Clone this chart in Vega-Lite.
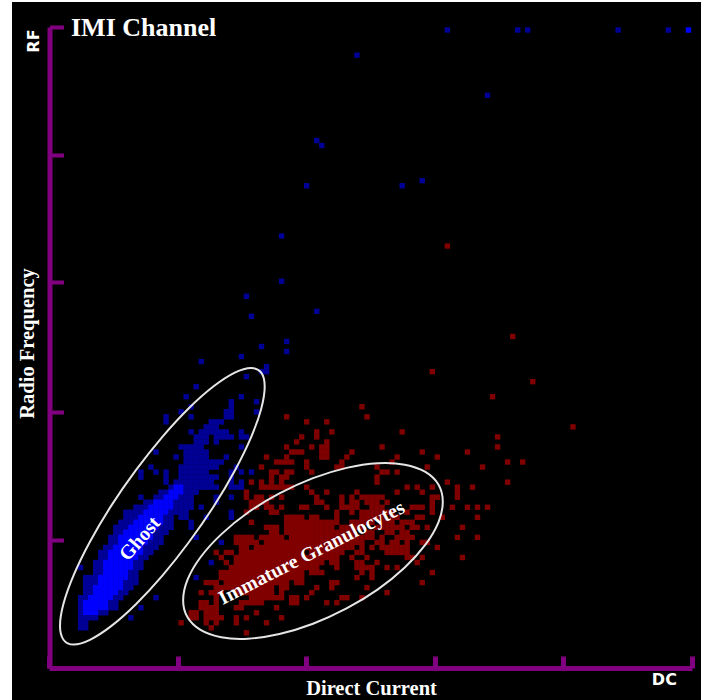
{"$schema":"https://vega.github.io/schema/vega-lite/v6.json","width":689,"height":698,"autosize":"none","padding":{"left":12,"top":2,"right":0,"bottom":0},"background":"white","config":{"view":{"fill":"black","stroke":null}},
"title":{"text":"IMI Channel","anchor":"start","frame":"group","dx":59,"dy":43,"font":"Liberation Serif","fontSize":26,"fontWeight":"bold","color":"white"},
"layer":[
{"data":{"values":[
{"d":79,"r":127,"t":"g"},{"d":93,"r":127,"t":"g"},{"d":95,"r":127,"t":"g"},{"d":113,"r":127,"t":"g"},{"d":123,"r":127,"t":"g"},{"d":127,"r":127,"t":"G"},{"d":61,"r":122,"t":"g"},{"d":87,"r":114,"t":"g"},{"d":53,"r":105,"t":"g"},{"d":54,"r":104,"t":"g"},{"d":74,"r":97,"t":"g"},{"d":51,"r":96,"t":"g"},{"d":70,"r":96,"t":"g"},{"d":46,"r":86,"t":"g"},{"d":46,"r":77,"t":"g"},{"d":39,"r":74,"t":"g"},{"d":53,"r":71,"t":"g"},{"d":40,"r":70,"t":"g"},{"d":47,"r":65,"t":"g"},{"d":42,"r":64,"t":"g"},{"d":47,"r":63,"t":"g"},{"d":38,"r":62,"t":"g"},{"d":30,"r":61,"t":"g"},{"d":43,"r":60,"t":"g"},{"d":42,"r":59,"t":"g"},{"d":43,"r":59,"t":"g"},{"d":39,"r":58,"t":"g"},{"d":29,"r":56,"t":"g"},{"d":38,"r":54,"t":"g"},{"d":27,"r":54,"t":"g"},{"d":41,"r":53,"t":"g"},{"d":36,"r":53,"t":"g"},{"d":36,"r":52,"t":"g"},{"d":28,"r":52,"t":"g"},{"d":35,"r":51,"t":"g"},{"d":26,"r":51,"t":"g"},{"d":41,"r":51,"t":"g"},{"d":36,"r":51,"t":"g"},{"d":35,"r":50,"t":"g"},{"d":28,"r":50,"t":"g"},{"d":36,"r":50,"t":"g"},{"d":23,"r":50,"t":"g"},{"d":34,"r":49,"t":"g"},{"d":32,"r":49,"t":"g"},{"d":33,"r":49,"t":"g"},{"d":23,"r":49,"t":"g"},{"d":31,"r":48,"t":"g"},{"d":32,"r":48,"t":"g"},{"d":33,"r":48,"t":"g"},
{"d":28,"r":47,"t":"g"},{"d":30,"r":47,"t":"g"},{"d":31,"r":47,"t":"g"},{"d":32,"r":47,"t":"g"},{"d":33,"r":47,"t":"g"},{"d":34,"r":47,"t":"g"},{"d":35,"r":47,"t":"g"},{"d":38,"r":47,"t":"g"},
{"d":29,"r":46,"t":"g"},{"d":30,"r":46,"t":"g"},{"d":31,"r":46,"t":"g"},{"d":33,"r":46,"t":"g"},{"d":34,"r":46,"t":"g"},{"d":35,"r":46,"t":"g"},{"d":36,"r":46,"t":"g"},{"d":38,"r":46,"t":"g"},{"d":39,"r":46,"t":"g"},
{"d":29,"r":45,"t":"g"},{"d":30,"r":45,"t":"g"},{"d":31,"r":45,"t":"g"},{"d":33,"r":45,"t":"g"},
{"d":26,"r":44,"t":"g"},{"d":27,"r":44,"t":"g"},{"d":28,"r":44,"t":"g"},{"d":29,"r":44,"t":"g"},{"d":30,"r":44,"t":"g"},{"d":38,"r":44,"t":"g"},
{"d":21,"r":43,"t":"g"},{"d":27,"r":43,"t":"g"},{"d":28,"r":43,"t":"g"},{"d":29,"r":43,"t":"g"},{"d":30,"r":43,"t":"g"},{"d":31,"r":43,"t":"g"},
{"d":25,"r":42,"t":"g"},{"d":27,"r":42,"t":"g"},{"d":28,"r":42,"t":"g"},{"d":29,"r":42,"t":"g"},{"d":30,"r":42,"t":"g"},{"d":31,"r":42,"t":"g"},{"d":35,"r":42,"t":"g"},
{"d":27,"r":41,"t":"g"},{"d":28,"r":41,"t":"g"},{"d":29,"r":41,"t":"g"},{"d":30,"r":41,"t":"g"},{"d":31,"r":41,"t":"g"},{"d":32,"r":41,"t":"g"},{"d":33,"r":41,"t":"g"},{"d":34,"r":41,"t":"g"},
{"d":20,"r":40,"t":"g"},{"d":26,"r":40,"t":"g"},{"d":27,"r":40,"t":"g"},{"d":28,"r":40,"t":"g"},{"d":29,"r":40,"t":"g"},{"d":30,"r":40,"t":"g"},{"d":31,"r":40,"t":"g"},{"d":32,"r":40,"t":"g"},{"d":33,"r":40,"t":"g"},{"d":37,"r":40,"t":"g"},
{"d":18,"r":39,"t":"g"},{"d":21,"r":39,"t":"g"},{"d":23,"r":39,"t":"g"},{"d":26,"r":39,"t":"g"},{"d":27,"r":39,"t":"g"},{"d":28,"r":39,"t":"g"},{"d":29,"r":39,"t":"g"},{"d":30,"r":39,"t":"g"},{"d":31,"r":39,"t":"g"},{"d":36,"r":39,"t":"g"},{"d":38,"r":39,"t":"g"},{"d":40,"r":39,"t":"g"},
{"d":18,"r":38,"t":"g"},{"d":23,"r":38,"t":"g"},{"d":26,"r":38,"t":"g"},{"d":27,"r":38,"t":"g"},{"d":28,"r":38,"t":"g"},{"d":29,"r":38,"t":"g"},{"d":30,"r":38,"t":"g"},{"d":31,"r":38,"t":"g"},{"d":32,"r":38,"t":"g"},{"d":33,"r":38,"t":"g"},{"d":36,"r":38,"t":"g"},
{"d":23,"r":37,"t":"g"},{"d":25,"r":37,"t":"g"},{"d":26,"r":37,"t":"g"},{"d":27,"r":37,"t":"g"},{"d":28,"r":37,"t":"g"},{"d":29,"r":37,"t":"g"},{"d":30,"r":37,"t":"g"},{"d":31,"r":37,"t":"g"},{"d":32,"r":37,"t":"g"},{"d":36,"r":37,"t":"g"},{"d":38,"r":37,"t":"g"},
{"d":24,"r":36,"t":"g"},{"d":25,"r":36,"t":"G"},{"d":26,"r":36,"t":"G"},{"d":27,"r":36,"t":"g"},{"d":28,"r":36,"t":"g"},{"d":29,"r":36,"t":"g"},{"d":30,"r":36,"t":"g"},{"d":31,"r":36,"t":"g"},{"d":32,"r":36,"t":"g"},{"d":33,"r":36,"t":"g"},{"d":36,"r":36,"t":"g"},{"d":37,"r":36,"t":"g"},{"d":38,"r":36,"t":"g"},
{"d":22,"r":35,"t":"g"},{"d":23,"r":35,"t":"g"},{"d":24,"r":35,"t":"G"},{"d":25,"r":35,"t":"G"},{"d":26,"r":35,"t":"G"},{"d":27,"r":35,"t":"g"},{"d":28,"r":35,"t":"g"},{"d":29,"r":35,"t":"g"},
{"d":18,"r":34,"t":"g"},{"d":21,"r":34,"t":"g"},{"d":22,"r":34,"t":"g"},{"d":23,"r":34,"t":"G"},{"d":24,"r":34,"t":"G"},{"d":25,"r":34,"t":"G"},{"d":26,"r":34,"t":"g"},{"d":27,"r":34,"t":"g"},{"d":28,"r":34,"t":"g"},{"d":33,"r":34,"t":"g"},{"d":36,"r":34,"t":"g"},
{"d":19,"r":33,"t":"g"},{"d":20,"r":33,"t":"g"},{"d":21,"r":33,"t":"G"},{"d":22,"r":33,"t":"G"},{"d":23,"r":33,"t":"G"},{"d":24,"r":33,"t":"G"},{"d":25,"r":33,"t":"g"},{"d":26,"r":33,"t":"g"},{"d":27,"r":33,"t":"g"},{"d":28,"r":33,"t":"g"},{"d":33,"r":33,"t":"g"},
{"d":17,"r":32,"t":"g"},{"d":18,"r":32,"t":"g"},{"d":19,"r":32,"t":"g"},{"d":20,"r":32,"t":"G"},{"d":21,"r":32,"t":"G"},{"d":22,"r":32,"t":"G"},{"d":23,"r":32,"t":"G"},{"d":24,"r":32,"t":"G"},{"d":25,"r":32,"t":"g"},{"d":26,"r":32,"t":"g"},{"d":27,"r":32,"t":"g"},{"d":28,"r":32,"t":"g"},{"d":30,"r":32,"t":"g"},
{"d":15,"r":31,"t":"g"},{"d":16,"r":31,"t":"g"},{"d":17,"r":31,"t":"g"},{"d":18,"r":31,"t":"g"},{"d":19,"r":31,"t":"G"},{"d":20,"r":31,"t":"G"},{"d":21,"r":31,"t":"G"},{"d":22,"r":31,"t":"G"},{"d":23,"r":31,"t":"G"},{"d":24,"r":31,"t":"g"},{"d":25,"r":31,"t":"g"},{"d":26,"r":31,"t":"g"},{"d":27,"r":31,"t":"g"},{"d":36,"r":31,"t":"g"},
{"d":15,"r":30,"t":"g"},{"d":16,"r":30,"t":"g"},{"d":17,"r":30,"t":"g"},{"d":18,"r":30,"t":"G"},{"d":19,"r":30,"t":"G"},{"d":20,"r":30,"t":"G"},{"d":21,"r":30,"t":"G"},{"d":22,"r":30,"t":"G"},{"d":23,"r":30,"t":"g"},{"d":24,"r":30,"t":"g"},{"d":26,"r":30,"t":"g"},{"d":27,"r":30,"t":"g"},{"d":31,"r":30,"t":"g"},{"d":36,"r":30,"t":"g"},
{"d":14,"r":29,"t":"g"},{"d":15,"r":29,"t":"g"},{"d":16,"r":29,"t":"g"},{"d":17,"r":29,"t":"G"},{"d":18,"r":29,"t":"G"},{"d":19,"r":29,"t":"G"},{"d":20,"r":29,"t":"G"},{"d":21,"r":29,"t":"G"},{"d":22,"r":29,"t":"G"},{"d":23,"r":29,"t":"g"},{"d":24,"r":29,"t":"g"},{"d":28,"r":29,"t":"g"},
{"d":13,"r":28,"t":"g"},{"d":14,"r":28,"t":"g"},{"d":15,"r":28,"t":"g"},{"d":16,"r":28,"t":"G"},{"d":17,"r":28,"t":"G"},{"d":18,"r":28,"t":"G"},{"d":19,"r":28,"t":"G"},{"d":20,"r":28,"t":"G"},{"d":21,"r":28,"t":"G"},{"d":22,"r":28,"t":"g"},{"d":23,"r":28,"t":"g"},{"d":24,"r":28,"t":"g"},{"d":28,"r":28,"t":"g"},
{"d":13,"r":27,"t":"g"},{"d":14,"r":27,"t":"g"},{"d":15,"r":27,"t":"G"},{"d":16,"r":27,"t":"G"},{"d":17,"r":27,"t":"G"},{"d":18,"r":27,"t":"G"},{"d":19,"r":27,"t":"G"},{"d":20,"r":27,"t":"G"},{"d":21,"r":27,"t":"g"},{"d":22,"r":27,"t":"g"},{"d":23,"r":27,"t":"g"},
{"d":12,"r":26,"t":"g"},{"d":13,"r":26,"t":"g"},{"d":14,"r":26,"t":"G"},{"d":15,"r":26,"t":"G"},{"d":16,"r":26,"t":"G"},{"d":17,"r":26,"t":"G"},{"d":18,"r":26,"t":"G"},{"d":19,"r":26,"t":"G"},{"d":20,"r":26,"t":"G"},{"d":21,"r":26,"t":"g"},{"d":22,"r":26,"t":"g"},{"d":29,"r":26,"t":"g"},
{"d":12,"r":25,"t":"g"},{"d":13,"r":25,"t":"g"},{"d":14,"r":25,"t":"G"},{"d":15,"r":25,"t":"G"},{"d":16,"r":25,"t":"G"},{"d":17,"r":25,"t":"G"},{"d":18,"r":25,"t":"G"},{"d":19,"r":25,"t":"G"},{"d":20,"r":25,"t":"g"},{"d":21,"r":25,"t":"g"},{"d":22,"r":25,"t":"g"},{"d":34,"r":25,"t":"g"},
{"d":11,"r":24,"t":"g"},{"d":12,"r":24,"t":"g"},{"d":13,"r":24,"t":"G"},{"d":14,"r":24,"t":"G"},{"d":15,"r":24,"t":"G"},{"d":16,"r":24,"t":"G"},{"d":17,"r":24,"t":"G"},{"d":18,"r":24,"t":"G"},{"d":19,"r":24,"t":"g"},{"d":20,"r":24,"t":"g"},{"d":21,"r":24,"t":"g"},
{"d":10,"r":23,"t":"g"},{"d":11,"r":23,"t":"g"},{"d":12,"r":23,"t":"G"},{"d":13,"r":23,"t":"G"},{"d":14,"r":23,"t":"G"},{"d":15,"r":23,"t":"G"},{"d":16,"r":23,"t":"G"},{"d":17,"r":23,"t":"G"},{"d":18,"r":23,"t":"G"},{"d":19,"r":23,"t":"g"},{"d":20,"r":23,"t":"g"},
{"d":10,"r":22,"t":"g"},{"d":11,"r":22,"t":"g"},{"d":12,"r":22,"t":"G"},{"d":13,"r":22,"t":"G"},{"d":14,"r":22,"t":"G"},{"d":15,"r":22,"t":"G"},{"d":16,"r":22,"t":"G"},{"d":17,"r":22,"t":"G"},{"d":18,"r":22,"t":"g"},{"d":19,"r":22,"t":"g"},
{"d":9,"r":21,"t":"g"},{"d":10,"r":21,"t":"g"},{"d":11,"r":21,"t":"G"},{"d":12,"r":21,"t":"G"},{"d":13,"r":21,"t":"G"},{"d":14,"r":21,"t":"G"},{"d":15,"r":21,"t":"G"},{"d":16,"r":21,"t":"G"},{"d":17,"r":21,"t":"g"},{"d":18,"r":21,"t":"g"},{"d":32,"r":21,"t":"g"},
{"d":6,"r":20,"t":"g"},{"d":9,"r":20,"t":"g"},{"d":10,"r":20,"t":"g"},{"d":11,"r":20,"t":"G"},{"d":12,"r":20,"t":"G"},{"d":13,"r":20,"t":"G"},{"d":14,"r":20,"t":"G"},{"d":15,"r":20,"t":"G"},{"d":16,"r":20,"t":"G"},{"d":17,"r":20,"t":"g"},{"d":18,"r":20,"t":"g"},
{"d":9,"r":19,"t":"g"},{"d":10,"r":19,"t":"g"},{"d":11,"r":19,"t":"G"},{"d":12,"r":19,"t":"G"},{"d":13,"r":19,"t":"G"},{"d":14,"r":19,"t":"G"},{"d":15,"r":19,"t":"G"},{"d":16,"r":19,"t":"g"},{"d":17,"r":19,"t":"g"},
{"d":7,"r":18,"t":"g"},{"d":8,"r":18,"t":"g"},{"d":9,"r":18,"t":"g"},{"d":10,"r":18,"t":"G"},{"d":11,"r":18,"t":"G"},{"d":12,"r":18,"t":"G"},{"d":13,"r":18,"t":"G"},{"d":14,"r":18,"t":"G"},{"d":15,"r":18,"t":"G"},{"d":16,"r":18,"t":"g"},{"d":17,"r":18,"t":"g"},{"d":29,"r":18,"t":"g"},
{"d":7,"r":17,"t":"g"},{"d":8,"r":17,"t":"g"},{"d":9,"r":17,"t":"g"},{"d":10,"r":17,"t":"G"},{"d":11,"r":17,"t":"G"},{"d":12,"r":17,"t":"G"},{"d":13,"r":17,"t":"G"},{"d":14,"r":17,"t":"G"},{"d":15,"r":17,"t":"g"},{"d":16,"r":17,"t":"g"},{"d":17,"r":17,"t":"g"},
{"d":7,"r":16,"t":"g"},{"d":8,"r":16,"t":"g"},{"d":9,"r":16,"t":"G"},{"d":10,"r":16,"t":"G"},{"d":11,"r":16,"t":"G"},{"d":12,"r":16,"t":"G"},{"d":13,"r":16,"t":"G"},{"d":14,"r":16,"t":"G"},{"d":15,"r":16,"t":"g"},{"d":16,"r":16,"t":"g"},
{"d":7,"r":15,"t":"g"},{"d":8,"r":15,"t":"g"},{"d":9,"r":15,"t":"G"},{"d":10,"r":15,"t":"G"},{"d":11,"r":15,"t":"G"},{"d":12,"r":15,"t":"G"},{"d":13,"r":15,"t":"G"},{"d":14,"r":15,"t":"g"},{"d":15,"r":15,"t":"g"},
{"d":6,"r":14,"t":"g"},{"d":7,"r":14,"t":"g"},{"d":8,"r":14,"t":"G"},{"d":9,"r":14,"t":"G"},{"d":10,"r":14,"t":"G"},{"d":11,"r":14,"t":"G"},{"d":12,"r":14,"t":"G"},{"d":13,"r":14,"t":"g"},{"d":14,"r":14,"t":"g"},{"d":21,"r":14,"t":"g"},
{"d":6,"r":13,"t":"g"},{"d":7,"r":13,"t":"G"},{"d":8,"r":13,"t":"G"},{"d":9,"r":13,"t":"G"},{"d":10,"r":13,"t":"G"},{"d":11,"r":13,"t":"G"},{"d":12,"r":13,"t":"g"},{"d":13,"r":13,"t":"g"},
{"d":6,"r":12,"t":"g"},{"d":7,"r":12,"t":"G"},{"d":8,"r":12,"t":"G"},{"d":9,"r":12,"t":"G"},{"d":10,"r":12,"t":"G"},{"d":11,"r":12,"t":"G"},{"d":12,"r":12,"t":"g"},{"d":13,"r":12,"t":"g"},{"d":18,"r":12,"t":"g"},
{"d":6,"r":11,"t":"g"},{"d":7,"r":11,"t":"G"},{"d":8,"r":11,"t":"G"},{"d":9,"r":11,"t":"G"},{"d":10,"r":11,"t":"g"},{"d":11,"r":11,"t":"g"},
{"d":6,"r":10,"t":"g"},{"d":7,"r":10,"t":"g"},{"d":8,"r":10,"t":"g"},{"d":9,"r":10,"t":"g"},{"d":16,"r":10,"t":"g"},{"d":6,"r":9,"t":"g"},{"d":7,"r":9,"t":"g"},{"d":6,"r":8,"t":"g"},{"d":7,"r":8,"t":"g"},
{"d":79,"r":84,"t":"i"},{"d":92,"r":66,"t":"i"},{"d":76,"r":59,"t":"i"},{"d":96,"r":57,"t":"i"},{"d":88,"r":54,"t":"i"},{"d":62,"r":52,"t":"i"},{"d":47,"r":50,"t":"i"},{"d":63,"r":50,"t":"i"},{"d":51,"r":49,"t":"i"},{"d":55,"r":49,"t":"i"},{"d":104,"r":48,"t":"i"},{"d":53,"r":47,"t":"i"},{"d":56,"r":47,"t":"i"},{"d":70,"r":47,"t":"i"},{"d":50,"r":46,"t":"i"},{"d":53,"r":46,"t":"i"},{"d":89,"r":46,"t":"i"},{"d":49,"r":45,"t":"i"},{"d":55,"r":45,"t":"i"},{"d":89,"r":44,"t":"i"},{"d":86,"r":40,"t":"i"},{"d":91,"r":41,"t":"i"},{"d":94,"r":41,"t":"i"},{"d":91,"r":37,"t":"i"},{"d":84,"r":36,"t":"i"},{"d":85,"r":32,"t":"i"},{"d":87,"r":32,"t":"i"},{"d":85,"r":30,"t":"i"},{"d":85,"r":26,"t":"i"},
{"d":47,"r":44,"t":"i"},{"d":52,"r":44,"t":"i"},{"d":54,"r":44,"t":"i"},{"d":55,"r":44,"t":"i"},{"d":66,"r":44,"t":"i"},
{"d":48,"r":43,"t":"i"},{"d":49,"r":43,"t":"i"},{"d":50,"r":43,"t":"i"},{"d":54,"r":43,"t":"i"},{"d":55,"r":43,"t":"i"},{"d":60,"r":43,"t":"i"},{"d":74,"r":43,"t":"i"},{"d":83,"r":43,"t":"i"},
{"d":43,"r":42,"t":"i"},{"d":47,"r":42,"t":"i"},{"d":54,"r":42,"t":"i"},{"d":55,"r":42,"t":"i"},{"d":59,"r":42,"t":"i"},{"d":69,"r":42,"t":"i"},{"d":77,"r":42,"t":"i"},
{"d":45,"r":41,"t":"i"},{"d":46,"r":41,"t":"i"},{"d":47,"r":41,"t":"i"},{"d":48,"r":41,"t":"i"},{"d":51,"r":41,"t":"i"},{"d":58,"r":41,"t":"i"},{"d":68,"r":41,"t":"i"},
{"d":42,"r":40,"t":"i"},{"d":51,"r":40,"t":"i"},{"d":57,"r":40,"t":"i"},{"d":58,"r":40,"t":"i"},{"d":65,"r":40,"t":"i"},{"d":75,"r":40,"t":"i"},
{"d":44,"r":39,"t":"i"},{"d":45,"r":39,"t":"i"},{"d":47,"r":39,"t":"i"},{"d":48,"r":39,"t":"i"},{"d":52,"r":39,"t":"i"},{"d":66,"r":39,"t":"i"},{"d":67,"r":39,"t":"i"},{"d":69,"r":39,"t":"i"},
{"d":44,"r":38,"t":"i"},{"d":46,"r":38,"t":"i"},{"d":47,"r":38,"t":"i"},{"d":65,"r":38,"t":"i"},
{"d":40,"r":37,"t":"i"},{"d":42,"r":37,"t":"i"},{"d":44,"r":37,"t":"i"},{"d":46,"r":37,"t":"i"},{"d":65,"r":37,"t":"i"},{"d":79,"r":37,"t":"i"},
{"d":42,"r":36,"t":"i"},{"d":43,"r":36,"t":"i"},{"d":44,"r":36,"t":"i"},{"d":45,"r":36,"t":"i"},{"d":46,"r":36,"t":"i"},{"d":47,"r":36,"t":"i"},{"d":48,"r":36,"t":"i"},{"d":51,"r":36,"t":"i"},{"d":71,"r":36,"t":"i"},{"d":73,"r":36,"t":"i"},{"d":76,"r":36,"t":"i"},{"d":81,"r":36,"t":"i"},
{"d":39,"r":35,"t":"i"},{"d":52,"r":35,"t":"i"},{"d":55,"r":35,"t":"i"},{"d":61,"r":35,"t":"i"},{"d":69,"r":35,"t":"i"},{"d":74,"r":35,"t":"i"},{"d":81,"r":35,"t":"i"},
{"d":39,"r":34,"t":"i"},{"d":41,"r":34,"t":"i"},{"d":42,"r":34,"t":"i"},{"d":44,"r":34,"t":"i"},{"d":46,"r":34,"t":"i"},{"d":53,"r":34,"t":"i"},{"d":58,"r":34,"t":"i"},{"d":60,"r":34,"t":"i"},{"d":62,"r":34,"t":"i"},{"d":63,"r":34,"t":"i"},{"d":64,"r":34,"t":"i"},{"d":65,"r":34,"t":"i"},{"d":66,"r":34,"t":"i"},{"d":76,"r":34,"t":"i"},{"d":77,"r":34,"t":"i"},{"d":81,"r":34,"t":"i"},
{"d":40,"r":33,"t":"i"},{"d":41,"r":33,"t":"i"},{"d":42,"r":33,"t":"i"},{"d":43,"r":33,"t":"i"},{"d":53,"r":33,"t":"i"},{"d":54,"r":33,"t":"i"},{"d":58,"r":33,"t":"i"},{"d":60,"r":33,"t":"i"},{"d":61,"r":33,"t":"i"},{"d":63,"r":33,"t":"i"},{"d":64,"r":33,"t":"i"},{"d":65,"r":33,"t":"i"},{"d":67,"r":33,"t":"i"},{"d":76,"r":33,"t":"i"},
{"d":40,"r":32,"t":"i"},{"d":41,"r":32,"t":"i"},{"d":43,"r":32,"t":"i"},{"d":44,"r":32,"t":"i"},{"d":46,"r":32,"t":"i"},{"d":50,"r":32,"t":"i"},{"d":51,"r":32,"t":"i"},{"d":55,"r":32,"t":"i"},{"d":58,"r":32,"t":"i"},{"d":59,"r":32,"t":"i"},{"d":60,"r":32,"t":"i"},{"d":61,"r":32,"t":"i"},{"d":64,"r":32,"t":"i"},{"d":65,"r":32,"t":"i"},{"d":66,"r":32,"t":"i"},{"d":72,"r":32,"t":"i"},{"d":73,"r":32,"t":"i"},{"d":74,"r":32,"t":"i"},{"d":76,"r":32,"t":"i"},{"d":80,"r":32,"t":"i"},{"d":83,"r":32,"t":"i"},
{"d":39,"r":31,"t":"i"},{"d":44,"r":31,"t":"i"},{"d":45,"r":31,"t":"i"},{"d":57,"r":31,"t":"i"},{"d":60,"r":31,"t":"i"},{"d":62,"r":31,"t":"i"},{"d":63,"r":31,"t":"i"},{"d":64,"r":31,"t":"i"},{"d":65,"r":31,"t":"i"},{"d":66,"r":31,"t":"i"},{"d":67,"r":31,"t":"i"},{"d":68,"r":31,"t":"i"},{"d":71,"r":31,"t":"i"},{"d":76,"r":31,"t":"i"},
{"d":47,"r":30,"t":"i"},{"d":48,"r":30,"t":"i"},{"d":49,"r":30,"t":"i"},{"d":50,"r":30,"t":"i"},{"d":52,"r":30,"t":"i"},{"d":53,"r":30,"t":"i"},{"d":57,"r":30,"t":"i"},{"d":62,"r":30,"t":"i"},{"d":63,"r":30,"t":"i"},{"d":64,"r":30,"t":"i"},{"d":65,"r":30,"t":"i"},{"d":66,"r":30,"t":"i"},{"d":68,"r":30,"t":"i"},{"d":69,"r":30,"t":"i"},{"d":73,"r":30,"t":"i"},{"d":74,"r":30,"t":"i"},{"d":78,"r":30,"t":"i"},
{"d":40,"r":29,"t":"i"},{"d":47,"r":29,"t":"i"},{"d":48,"r":29,"t":"i"},{"d":49,"r":29,"t":"i"},{"d":50,"r":29,"t":"i"},{"d":51,"r":29,"t":"i"},{"d":52,"r":29,"t":"i"},{"d":53,"r":29,"t":"i"},{"d":54,"r":29,"t":"i"},{"d":55,"r":29,"t":"i"},{"d":56,"r":29,"t":"i"},{"d":57,"r":29,"t":"i"},{"d":60,"r":29,"t":"i"},{"d":61,"r":29,"t":"i"},{"d":62,"r":29,"t":"i"},{"d":63,"r":29,"t":"i"},{"d":64,"r":29,"t":"i"},{"d":66,"r":29,"t":"i"},{"d":67,"r":29,"t":"i"},{"d":68,"r":29,"t":"i"},{"d":70,"r":29,"t":"i"},{"d":71,"r":29,"t":"i"},{"d":72,"r":29,"t":"i"},
{"d":43,"r":28,"t":"i"},{"d":44,"r":28,"t":"i"},{"d":45,"r":28,"t":"i"},{"d":47,"r":28,"t":"i"},{"d":48,"r":28,"t":"i"},{"d":49,"r":28,"t":"i"},{"d":50,"r":28,"t":"i"},{"d":51,"r":28,"t":"i"},{"d":52,"r":28,"t":"i"},{"d":53,"r":28,"t":"i"},{"d":54,"r":28,"t":"i"},{"d":55,"r":28,"t":"i"},{"d":56,"r":28,"t":"i"},{"d":58,"r":28,"t":"i"},{"d":59,"r":28,"t":"i"},{"d":60,"r":28,"t":"i"},{"d":61,"r":28,"t":"i"},{"d":62,"r":28,"t":"i"},{"d":65,"r":28,"t":"i"},{"d":66,"r":28,"t":"i"},{"d":67,"r":28,"t":"i"},{"d":68,"r":28,"t":"i"},{"d":69,"r":28,"t":"i"},{"d":70,"r":28,"t":"i"},{"d":72,"r":28,"t":"i"},{"d":73,"r":28,"t":"i"},{"d":75,"r":28,"t":"i"},{"d":82,"r":28,"t":"i"},
{"d":44,"r":27,"t":"i"},{"d":45,"r":27,"t":"i"},{"d":47,"r":27,"t":"i"},{"d":48,"r":27,"t":"i"},{"d":49,"r":27,"t":"i"},{"d":50,"r":27,"t":"i"},{"d":51,"r":27,"t":"i"},{"d":52,"r":27,"t":"i"},{"d":53,"r":27,"t":"i"},{"d":54,"r":27,"t":"i"},{"d":55,"r":27,"t":"i"},{"d":56,"r":27,"t":"i"},{"d":57,"r":27,"t":"i"},{"d":58,"r":27,"t":"i"},{"d":59,"r":27,"t":"i"},{"d":60,"r":27,"t":"i"},{"d":63,"r":27,"t":"i"},{"d":64,"r":27,"t":"i"},{"d":67,"r":27,"t":"i"},{"d":68,"r":27,"t":"i"},{"d":70,"r":27,"t":"i"},{"d":71,"r":27,"t":"i"},
{"d":37,"r":26,"t":"i"},{"d":38,"r":26,"t":"i"},{"d":39,"r":26,"t":"i"},{"d":40,"r":26,"t":"i"},{"d":42,"r":26,"t":"i"},{"d":43,"r":26,"t":"i"},{"d":44,"r":26,"t":"i"},{"d":45,"r":26,"t":"i"},{"d":46,"r":26,"t":"i"},{"d":48,"r":26,"t":"i"},{"d":49,"r":26,"t":"i"},{"d":50,"r":26,"t":"i"},{"d":51,"r":26,"t":"i"},{"d":52,"r":26,"t":"i"},{"d":53,"r":26,"t":"i"},{"d":54,"r":26,"t":"i"},{"d":55,"r":26,"t":"i"},{"d":56,"r":26,"t":"i"},{"d":57,"r":26,"t":"i"},{"d":58,"r":26,"t":"i"},{"d":59,"r":26,"t":"i"},{"d":60,"r":26,"t":"i"},{"d":61,"r":26,"t":"i"},{"d":62,"r":26,"t":"i"},{"d":63,"r":26,"t":"i"},{"d":64,"r":26,"t":"i"},{"d":66,"r":26,"t":"i"},{"d":69,"r":26,"t":"i"},{"d":70,"r":26,"t":"i"},{"d":71,"r":26,"t":"i"},{"d":72,"r":26,"t":"i"},{"d":81,"r":26,"t":"i"},
{"d":37,"r":25,"t":"i"},{"d":38,"r":25,"t":"i"},{"d":39,"r":25,"t":"i"},{"d":40,"r":25,"t":"i"},{"d":41,"r":25,"t":"i"},{"d":43,"r":25,"t":"i"},{"d":44,"r":25,"t":"i"},{"d":45,"r":25,"t":"i"},{"d":46,"r":25,"t":"i"},{"d":47,"r":25,"t":"i"},{"d":48,"r":25,"t":"i"},{"d":49,"r":25,"t":"i"},{"d":50,"r":25,"t":"i"},{"d":51,"r":25,"t":"i"},{"d":52,"r":25,"t":"i"},{"d":53,"r":25,"t":"i"},{"d":54,"r":25,"t":"i"},{"d":55,"r":25,"t":"i"},{"d":56,"r":25,"t":"i"},{"d":57,"r":25,"t":"i"},{"d":58,"r":25,"t":"i"},{"d":59,"r":25,"t":"i"},{"d":60,"r":25,"t":"i"},{"d":61,"r":25,"t":"i"},{"d":62,"r":25,"t":"i"},{"d":65,"r":25,"t":"i"},{"d":66,"r":25,"t":"i"},{"d":68,"r":25,"t":"i"},{"d":69,"r":25,"t":"i"},{"d":71,"r":25,"t":"i"},{"d":74,"r":25,"t":"i"},{"d":75,"r":25,"t":"i"},
{"d":38,"r":24,"t":"i"},{"d":39,"r":24,"t":"i"},{"d":41,"r":24,"t":"i"},{"d":42,"r":24,"t":"i"},{"d":43,"r":24,"t":"i"},{"d":44,"r":24,"t":"i"},{"d":45,"r":24,"t":"i"},{"d":46,"r":24,"t":"i"},{"d":47,"r":24,"t":"i"},{"d":48,"r":24,"t":"i"},{"d":49,"r":24,"t":"i"},{"d":50,"r":24,"t":"i"},{"d":51,"r":24,"t":"i"},{"d":52,"r":24,"t":"i"},{"d":53,"r":24,"t":"i"},{"d":54,"r":24,"t":"i"},{"d":55,"r":24,"t":"i"},{"d":56,"r":24,"t":"i"},{"d":57,"r":24,"t":"i"},{"d":58,"r":24,"t":"i"},{"d":59,"r":24,"t":"i"},{"d":60,"r":24,"t":"i"},{"d":62,"r":24,"t":"i"},{"d":64,"r":24,"t":"i"},{"d":66,"r":24,"t":"i"},{"d":67,"r":24,"t":"i"},{"d":68,"r":24,"t":"i"},{"d":69,"r":24,"t":"i"},{"d":70,"r":24,"t":"i"},{"d":71,"r":24,"t":"i"},{"d":77,"r":24,"t":"i"},
{"d":33,"r":23,"t":"i"},{"d":35,"r":23,"t":"i"},{"d":36,"r":23,"t":"i"},{"d":38,"r":23,"t":"i"},{"d":39,"r":23,"t":"i"},{"d":40,"r":23,"t":"i"},{"d":41,"r":23,"t":"i"},{"d":42,"r":23,"t":"i"},{"d":43,"r":23,"t":"i"},{"d":44,"r":23,"t":"i"},{"d":45,"r":23,"t":"i"},{"d":46,"r":23,"t":"i"},{"d":47,"r":23,"t":"i"},{"d":48,"r":23,"t":"i"},{"d":49,"r":23,"t":"i"},{"d":50,"r":23,"t":"i"},{"d":52,"r":23,"t":"i"},{"d":53,"r":23,"t":"i"},{"d":54,"r":23,"t":"i"},{"d":55,"r":23,"t":"i"},{"d":56,"r":23,"t":"i"},{"d":57,"r":23,"t":"i"},{"d":58,"r":23,"t":"i"},{"d":61,"r":23,"t":"i"},{"d":62,"r":23,"t":"i"},{"d":67,"r":23,"t":"i"},{"d":68,"r":23,"t":"i"},{"d":69,"r":23,"t":"i"},{"d":70,"r":23,"t":"i"},{"d":71,"r":23,"t":"i"},
{"d":34,"r":22,"t":"i"},{"d":37,"r":22,"t":"i"},{"d":38,"r":22,"t":"i"},{"d":39,"r":22,"t":"i"},{"d":40,"r":22,"t":"i"},{"d":41,"r":22,"t":"i"},{"d":42,"r":22,"t":"i"},{"d":43,"r":22,"t":"i"},{"d":44,"r":22,"t":"i"},{"d":45,"r":22,"t":"i"},{"d":46,"r":22,"t":"i"},{"d":47,"r":22,"t":"i"},{"d":48,"r":22,"t":"i"},{"d":49,"r":22,"t":"i"},{"d":50,"r":22,"t":"i"},{"d":51,"r":22,"t":"i"},{"d":52,"r":22,"t":"i"},{"d":53,"r":22,"t":"i"},{"d":54,"r":22,"t":"i"},{"d":55,"r":22,"t":"i"},{"d":56,"r":22,"t":"i"},{"d":57,"r":22,"t":"i"},{"d":60,"r":22,"t":"i"},{"d":63,"r":22,"t":"i"},{"d":71,"r":22,"t":"i"},{"d":72,"r":22,"t":"i"},{"d":74,"r":22,"t":"i"},{"d":82,"r":22,"t":"i"},
{"d":35,"r":21,"t":"i"},{"d":37,"r":21,"t":"i"},{"d":38,"r":21,"t":"i"},{"d":39,"r":21,"t":"i"},{"d":40,"r":21,"t":"i"},{"d":41,"r":21,"t":"i"},{"d":42,"r":21,"t":"i"},{"d":43,"r":21,"t":"i"},{"d":44,"r":21,"t":"i"},{"d":45,"r":21,"t":"i"},{"d":46,"r":21,"t":"i"},{"d":47,"r":21,"t":"i"},{"d":48,"r":21,"t":"i"},{"d":49,"r":21,"t":"i"},{"d":50,"r":21,"t":"i"},{"d":51,"r":21,"t":"i"},{"d":52,"r":21,"t":"i"},{"d":53,"r":21,"t":"i"},{"d":54,"r":21,"t":"i"},{"d":56,"r":21,"t":"i"},{"d":57,"r":21,"t":"i"},{"d":61,"r":21,"t":"i"},{"d":62,"r":21,"t":"i"},{"d":65,"r":21,"t":"i"},{"d":73,"r":21,"t":"i"},
{"d":36,"r":20,"t":"i"},{"d":37,"r":20,"t":"i"},{"d":38,"r":20,"t":"i"},{"d":39,"r":20,"t":"i"},{"d":40,"r":20,"t":"i"},{"d":41,"r":20,"t":"i"},{"d":42,"r":20,"t":"i"},{"d":43,"r":20,"t":"i"},{"d":44,"r":20,"t":"i"},{"d":45,"r":20,"t":"i"},{"d":46,"r":20,"t":"i"},{"d":47,"r":20,"t":"i"},{"d":48,"r":20,"t":"i"},{"d":49,"r":20,"t":"i"},{"d":50,"r":20,"t":"i"},{"d":51,"r":20,"t":"i"},{"d":52,"r":20,"t":"i"},{"d":53,"r":20,"t":"i"},{"d":57,"r":20,"t":"i"},{"d":61,"r":20,"t":"i"},{"d":62,"r":20,"t":"i"},{"d":63,"r":20,"t":"i"},{"d":64,"r":20,"t":"i"},{"d":67,"r":20,"t":"i"},{"d":69,"r":20,"t":"i"},
{"d":34,"r":19,"t":"i"},{"d":35,"r":19,"t":"i"},{"d":36,"r":19,"t":"i"},{"d":37,"r":19,"t":"i"},{"d":38,"r":19,"t":"i"},{"d":39,"r":19,"t":"i"},{"d":40,"r":19,"t":"i"},{"d":41,"r":19,"t":"i"},{"d":42,"r":19,"t":"i"},{"d":43,"r":19,"t":"i"},{"d":44,"r":19,"t":"i"},{"d":45,"r":19,"t":"i"},{"d":46,"r":19,"t":"i"},{"d":47,"r":19,"t":"i"},{"d":48,"r":19,"t":"i"},{"d":49,"r":19,"t":"i"},{"d":50,"r":19,"t":"i"},{"d":52,"r":19,"t":"i"},{"d":53,"r":19,"t":"i"},{"d":54,"r":19,"t":"i"},{"d":62,"r":19,"t":"i"},{"d":64,"r":19,"t":"i"},{"d":76,"r":19,"t":"i"},
{"d":34,"r":18,"t":"i"},{"d":35,"r":18,"t":"i"},{"d":36,"r":18,"t":"i"},{"d":37,"r":18,"t":"i"},{"d":38,"r":18,"t":"i"},{"d":39,"r":18,"t":"i"},{"d":40,"r":18,"t":"i"},{"d":41,"r":18,"t":"i"},{"d":42,"r":18,"t":"i"},{"d":43,"r":18,"t":"i"},{"d":44,"r":18,"t":"i"},{"d":45,"r":18,"t":"i"},{"d":46,"r":18,"t":"i"},{"d":47,"r":18,"t":"i"},{"d":48,"r":18,"t":"i"},{"d":49,"r":18,"t":"i"},{"d":50,"r":18,"t":"i"},{"d":61,"r":18,"t":"i"},{"d":64,"r":18,"t":"i"},
{"d":31,"r":17,"t":"i"},{"d":32,"r":17,"t":"i"},{"d":33,"r":17,"t":"i"},{"d":35,"r":17,"t":"i"},{"d":36,"r":17,"t":"i"},{"d":37,"r":17,"t":"i"},{"d":38,"r":17,"t":"i"},{"d":39,"r":17,"t":"i"},{"d":40,"r":17,"t":"i"},{"d":41,"r":17,"t":"i"},{"d":42,"r":17,"t":"i"},{"d":43,"r":17,"t":"i"},{"d":44,"r":17,"t":"i"},{"d":45,"r":17,"t":"i"},{"d":46,"r":17,"t":"i"},{"d":47,"r":17,"t":"i"},{"d":49,"r":17,"t":"i"},{"d":50,"r":17,"t":"i"},{"d":56,"r":17,"t":"i"},{"d":57,"r":17,"t":"i"},{"d":74,"r":17,"t":"i"},
{"d":33,"r":16,"t":"i"},{"d":34,"r":16,"t":"i"},{"d":35,"r":16,"t":"i"},{"d":36,"r":16,"t":"i"},{"d":37,"r":16,"t":"i"},{"d":38,"r":16,"t":"i"},{"d":39,"r":16,"t":"i"},{"d":40,"r":16,"t":"i"},{"d":41,"r":16,"t":"i"},{"d":42,"r":16,"t":"i"},{"d":43,"r":16,"t":"i"},{"d":44,"r":16,"t":"i"},{"d":46,"r":16,"t":"i"},{"d":47,"r":16,"t":"i"},{"d":53,"r":16,"t":"i"},{"d":56,"r":16,"t":"i"},{"d":63,"r":16,"t":"i"},
{"d":30,"r":15,"t":"i"},{"d":32,"r":15,"t":"i"},{"d":33,"r":15,"t":"i"},{"d":34,"r":15,"t":"i"},{"d":37,"r":15,"t":"i"},{"d":38,"r":15,"t":"i"},{"d":39,"r":15,"t":"i"},{"d":40,"r":15,"t":"i"},{"d":41,"r":15,"t":"i"},{"d":42,"r":15,"t":"i"},{"d":43,"r":15,"t":"i"},{"d":44,"r":15,"t":"i"},{"d":46,"r":15,"t":"i"},{"d":52,"r":15,"t":"i"},{"d":67,"r":15,"t":"i"},
{"d":33,"r":14,"t":"i"},{"d":40,"r":14,"t":"i"},{"d":41,"r":14,"t":"i"},{"d":42,"r":14,"t":"i"},{"d":43,"r":14,"t":"i"},{"d":44,"r":14,"t":"i"},{"d":45,"r":14,"t":"i"},{"d":46,"r":14,"t":"i"},{"d":48,"r":14,"t":"i"},{"d":49,"r":14,"t":"i"},{"d":51,"r":14,"t":"i"},{"d":58,"r":14,"t":"i"},{"d":59,"r":14,"t":"i"},{"d":62,"r":14,"t":"i"},
{"d":30,"r":13,"t":"i"},{"d":31,"r":13,"t":"i"},{"d":33,"r":13,"t":"i"},{"d":38,"r":13,"t":"i"},{"d":39,"r":13,"t":"i"},{"d":40,"r":13,"t":"i"},{"d":41,"r":13,"t":"i"},{"d":42,"r":13,"t":"i"},{"d":48,"r":13,"t":"i"},{"d":49,"r":13,"t":"i"},{"d":55,"r":13,"t":"i"},{"d":57,"r":13,"t":"i"},
{"d":30,"r":12,"t":"i"},{"d":31,"r":12,"t":"i"},{"d":32,"r":12,"t":"i"},{"d":33,"r":12,"t":"i"},{"d":37,"r":12,"t":"i"},{"d":38,"r":12,"t":"i"},{"d":45,"r":12,"t":"i"},
{"d":28,"r":11,"t":"i"},{"d":29,"r":11,"t":"i"},{"d":31,"r":11,"t":"i"},{"d":32,"r":11,"t":"i"},{"d":33,"r":11,"t":"i"},{"d":41,"r":11,"t":"i"},
{"d":28,"r":10,"t":"i"},{"d":29,"r":10,"t":"i"},{"d":31,"r":10,"t":"i"},{"d":32,"r":10,"t":"i"},{"d":33,"r":10,"t":"i"},{"d":34,"r":10,"t":"i"},{"d":37,"r":10,"t":"i"},{"d":39,"r":10,"t":"i"},{"d":46,"r":10,"t":"i"},
{"d":26,"r":9,"t":"i"},{"d":31,"r":9,"t":"i"},{"d":33,"r":9,"t":"i"},{"d":37,"r":9,"t":"i"},{"d":43,"r":9,"t":"i"},{"d":32,"r":8,"t":"i"},{"d":39,"r":7,"t":"i"}
]},
"mark":{"type":"square","size":29,"opacity":1,"clip":false},
"encoding":{
"x":{"field":"d","type":"quantitative","scale":{"domain":[-0.3,127.7],"range":[37,680],"nice":false,"zero":false},"axis":{"title":"Direct Current","titleFont":"Liberation Serif","titleFontSize":20.5,"titleFontWeight":"bold","titleColor":"white","titleX":359,"titleY":20,"titleBaseline":"middle","values":[-0.3,25.3,50.9,76.5,102.1,127.7],"labels":false,"grid":false,"offset":-32,"domainColor":"#800080","domainWidth":5,"tickColor":"#800080","tickWidth":5,"tickSize":-12}},
"y":{"field":"r","type":"quantitative","scale":{"domain":[0,127.6],"range":[666,25],"nice":false,"zero":false},"axis":{"title":"Radio Frequency","titleFont":"Liberation Serif","titleFontSize":20.5,"titleFontWeight":"bold","titleColor":"white","titleAngle":270,"titleX":-22,"titleY":341,"titleBaseline":"middle","values":[0,25.5,51,76.9,102.2,127.6],"labels":false,"grid":false,"offset":-37.5,"domainColor":"#800080","domainWidth":5,"tickColor":"#800080","tickWidth":4,"tickSize":-14}},
"color":{"field":"t","type":"nominal","scale":{"domain":["g","G","i"],"range":["#000096","#0000ff","#800000"]},"legend":null}}},
{"data":{"values":[
{"e":"g","o":0,"d":42.64,"r":56.02},{"e":"g","o":1,"d":41.95,"r":58.79},{"e":"g","o":2,"d":39.92,"r":59.74},{"e":"g","o":3,"d":36.68,"r":58.81},{"e":"g","o":4,"d":32.47,"r":56.08},{"e":"g","o":5,"d":27.53,"r":51.71},{"e":"g","o":6,"d":22.27,"r":46.02},{"e":"g","o":7,"d":17.0,"r":39.38},{"e":"g","o":8,"d":12.07,"r":32.27},{"e":"g","o":9,"d":7.85,"r":25.13},{"e":"g","o":10,"d":4.61,"r":18.49},{"e":"g","o":11,"d":2.58,"r":12.78},{"e":"g","o":12,"d":1.89,"r":8.39},{"e":"g","o":13,"d":2.58,"r":5.63},{"e":"g","o":14,"d":4.61,"r":4.67},{"e":"g","o":15,"d":7.85,"r":5.61},{"e":"g","o":16,"d":12.07,"r":8.33},{"e":"g","o":17,"d":17.0,"r":12.7},{"e":"g","o":18,"d":22.27,"r":18.39},{"e":"g","o":19,"d":27.53,"r":25.03},{"e":"g","o":20,"d":32.47,"r":32.15},{"e":"g","o":21,"d":36.68,"r":39.28},{"e":"g","o":22,"d":39.92,"r":45.92},{"e":"g","o":23,"d":41.95,"r":51.63},
{"e":"i","o":0,"d":78.09,"r":33.1},{"e":"i","o":1,"d":77.22,"r":36.52},{"e":"i","o":2,"d":74.63,"r":39.03},{"e":"i","o":3,"d":70.52,"r":40.48},{"e":"i","o":4,"d":65.17,"r":40.76},{"e":"i","o":5,"d":58.93,"r":39.84},{"e":"i","o":6,"d":52.25,"r":37.79},{"e":"i","o":7,"d":45.57,"r":34.75},{"e":"i","o":8,"d":39.32,"r":30.95},{"e":"i","o":9,"d":33.98,"r":26.6},{"e":"i","o":10,"d":29.86,"r":22.05},{"e":"i","o":11,"d":27.28,"r":17.59},{"e":"i","o":12,"d":26.4,"r":13.5},{"e":"i","o":13,"d":27.28,"r":10.08},{"e":"i","o":14,"d":29.86,"r":7.57},{"e":"i","o":15,"d":33.98,"r":6.12},{"e":"i","o":16,"d":39.32,"r":5.84},{"e":"i","o":17,"d":45.57,"r":6.76},{"e":"i","o":18,"d":52.25,"r":8.81},{"e":"i","o":19,"d":58.93,"r":11.85},{"e":"i","o":20,"d":65.17,"r":15.65},{"e":"i","o":21,"d":70.52,"r":20},{"e":"i","o":22,"d":74.63,"r":24.55},{"e":"i","o":23,"d":77.22,"r":29}
]},
"mark":{"type":"line","interpolate":"cardinal-closed","stroke":"#e6e6e6","strokeWidth":2,"clip":false},
"encoding":{"x":{"field":"d","type":"quantitative"},"y":{"field":"r","type":"quantitative"},"detail":{"field":"e"},"order":{"field":"o","type":"ordinal"}}},
{"data":{"values":[{"label":"Ghost","d":17.8,"r":25.7}]},"mark":{"type":"text","angle":311,"font":"Liberation Serif","fontSize":20,"fontWeight":"bold","color":"white","align":"center","baseline":"middle"},"encoding":{"x":{"field":"d","type":"quantitative"},"y":{"field":"r","type":"quantitative"},"text":{"field":"label"}}},
{"data":{"values":[{"label":"Immature Granulocytes","d":52,"r":22.9}]},"mark":{"type":"text","angle":333,"font":"Liberation Serif","fontSize":20,"fontWeight":"bold","color":"white","align":"center","baseline":"middle"},"encoding":{"x":{"field":"d","type":"quantitative"},"y":{"field":"r","type":"quantitative"},"text":{"field":"label"}}},
{"data":{"values":[{"label":"RF","d":-3.2,"r":124.8}]},"mark":{"type":"text","angle":270,"font":"DejaVu Sans","fontSize":16,"fontWeight":"bold","color":"white","align":"center","baseline":"middle"},"encoding":{"x":{"field":"d","type":"quantitative"},"y":{"field":"r","type":"quantitative"},"text":{"field":"label"}}},
{"data":{"values":[{"label":"DC","d":122.2,"r":-2.4}]},"mark":{"type":"text","font":"DejaVu Sans","fontSize":16,"fontWeight":"bold","color":"white","align":"center","baseline":"middle"},"encoding":{"x":{"field":"d","type":"quantitative"},"y":{"field":"r","type":"quantitative"},"text":{"field":"label"}}}
]}
